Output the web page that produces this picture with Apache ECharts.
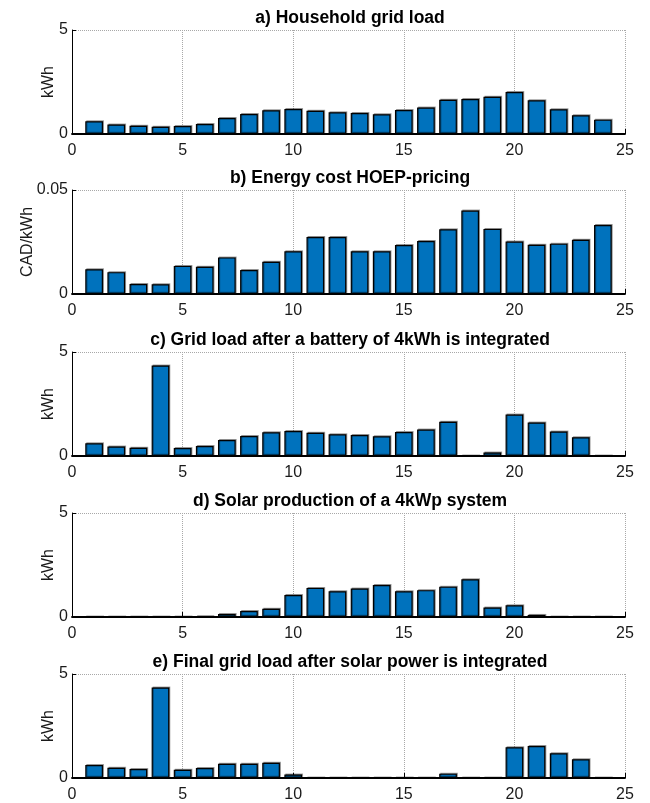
<!DOCTYPE html>
<html><head><meta charset="utf-8">
<script src="https://cdn.jsdelivr.net/npm/echarts@6/dist/echarts.min.js"></script>
<style>html,body{margin:0;padding:0;background:#fff}#c{width:650px;height:803px}</style>
</head><body><div id="c"></div>
<script>
const hours = [1,2,3,4,5,6,7,8,9,10,11,12,13,14,15,16,17,18,19,20,21,22,23,24];
const householdLoad = [0.61,0.46,0.40,0.35,0.38,0.48,0.77,0.96,1.14,1.20,1.12,1.04,1.01,0.95,1.15,1.27,1.65,1.68,1.79,2.02,1.62,1.19,0.90,0.69];
const energyCost = [0.0119,0.0105,0.0048,0.0047,0.0135,0.0131,0.0176,0.0115,0.0155,0.0205,0.0274,0.0274,0.0205,0.0205,0.0235,0.0255,0.0311,0.0401,0.0313,0.0252,0.0237,0.0242,0.0261,0.0332];
const batteryLoad = [0.61,0.46,0.40,4.35,0.38,0.48,0.77,0.96,1.14,1.20,1.12,1.04,1.01,0.95,1.15,1.27,1.65,0,0.17,1.99,1.61,1.18,0.90,0];
const solarProduction = [0,0,0,0,0,0.03,0.14,0.29,0.40,1.06,1.40,1.24,1.37,1.54,1.24,1.29,1.46,1.81,0.46,0.56,0.10,0,0,0];
const finalLoad = [0.62,0.49,0.43,4.35,0.40,0.48,0.68,0.68,0.73,0.17,0,0,0,0,0,0,0.21,0,0,1.48,1.54,1.19,0.90,0];

const titles = ['a) Household grid load','b) Energy cost HOEP-pricing','c) Grid load after a battery of 4kWh is integrated','d) Solar production of a 4kWp system','e) Final grid load after solar power is integrated'];
const yNames = ['kWh','CAD/kWh','kWh','kWh','kWh'];
const yMax = [5,0.05,5,5,5];
const seriesData = [householdLoad, energyCost, batteryLoad, solarProduction, finalLoad];
const tops = [30,190,352,513,674];
const H = 104;
const font = 'Liberation Sans, Arial, Helvetica, sans-serif';

const grid=[],xAxis=[],yAxis=[],series=[],title=[];
for(let i=0;i<5;i++){
  grid.push({left:72,right:25,top:tops[i],height:H,containLabel:false});
  title.push({text:titles[i],left:350,top:tops[i]-21,textAlign:'center',padding:0,
    textStyle:{fontFamily:font,fontSize:17.5,fontWeight:'bold',color:'#000'}});
  xAxis.push({type:'value',gridIndex:i,min:0,max:25,interval:5,
    axisLine:{show:true,onZero:false,lineStyle:{color:'#000',width:1.8}},
    axisTick:{show:true,inside:true,length:5,lineStyle:{color:'#000'}},
    axisLabel:{fontFamily:font,fontSize:16,color:'#1a1a1a',margin:9},
    splitLine:{show:true,lineStyle:{type:'dotted',color:'#a8a8a8',width:1}}});
  yAxis.push({type:'value',gridIndex:i,min:0,max:yMax[i],interval:yMax[i],
    name:yNames[i],nameLocation:'middle',nameGap:i===1?36:15,nameMoveOverlap:false,
    nameTextStyle:{fontFamily:font,fontSize:16,color:'#1a1a1a'},
    axisLine:{show:true,lineStyle:{color:'#000',width:1}},
    axisTick:{show:true,inside:true,length:4,lineStyle:{color:'#000'}},
    axisLabel:{fontFamily:font,fontSize:16,color:'#1a1a1a',margin:4},
    splitLine:{show:true,lineStyle:{type:'dotted',color:'#a8a8a8',width:1}}});
  series.push({type:'bar',xAxisIndex:i,yAxisIndex:i,barWidth:'80%',
    data:hours.map((h,k)=>[h,seriesData[i][k]]),
    itemStyle:{color:'#0072BD',borderColor:'#000',borderWidth:1.2,
      shadowColor:'rgba(0,0,0,0.35)',shadowOffsetX:1,shadowOffsetY:-1,shadowBlur:0},
    silent:true,animation:false});
}
const chart = echarts.init(document.getElementById('c'),null,{renderer:'canvas'});
chart.setOption({animation:false,title,grid,xAxis,yAxis,series});
</script></body></html>
